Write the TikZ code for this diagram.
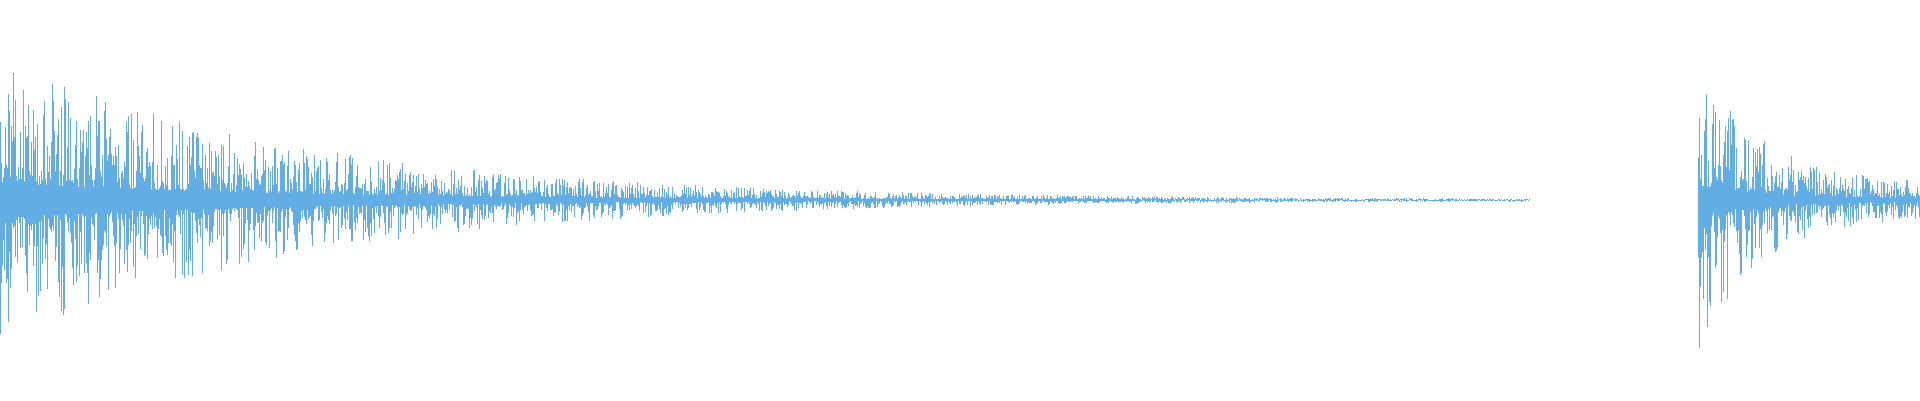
\documentclass[tikz,border=0pt]{standalone}
\definecolor{wave}{HTML}{63ADE5}
\begin{document}
\begin{tikzpicture}[wv/.style={draw=wave,line width=0.28pt}]
\useasboundingbox (0,0) rectangle (19.2,4);
\pgfmathsetseed{11}
\foreach \i in {0,...,1530}{
  \pgfmathsetmacro\x{\i*0.01}
  \pgfmathsetmacro\env{1.45*exp(-\x/3.0)+0.006}
  \pgfmathsetmacro\a{\env*(0.12+0.88*rnd^1.8)}
  \pgfmathsetmacro\b{\env*(0.12+0.88*rnd^1.8)}
  \draw[wv] (\x,2+\a) -- (\x,2-\b);
}
\foreach \i in {0,...,222}{
  \pgfmathsetmacro\x{16.98+\i*0.01}
  \pgfmathsetmacro\env{1.35*exp(-(\x-16.98)/0.6)+0.16}
  \pgfmathsetmacro\a{\env*(0.1+0.9*rnd^1.6)}
  \pgfmathsetmacro\b{\env*(0.1+0.9*rnd^1.6)}
  \draw[wv] (\x,2+\a) -- (\x,2-\b);
}
\end{tikzpicture}
\end{document}
